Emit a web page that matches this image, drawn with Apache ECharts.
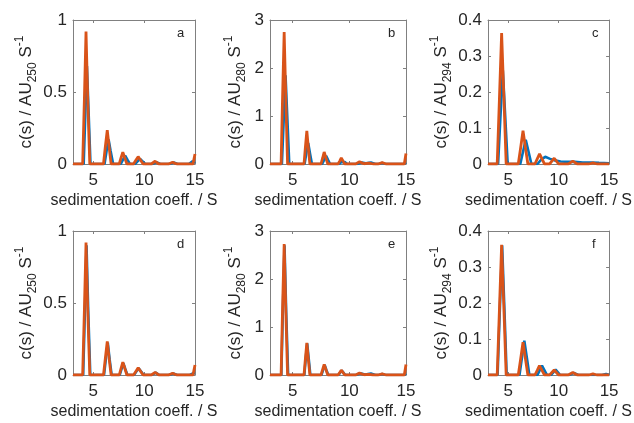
<!DOCTYPE html>
<html>
<head>
<meta charset="utf-8">
<script src="https://cdn.jsdelivr.net/npm/echarts@6/dist/echarts.min.js"></script>
<style>
  html, body { margin: 0; padding: 0; background: #fff; }
  #chart { width: 634px; height: 423px; }
</style>
</head>
<body>
<div id="chart"></div>
<script>
// sedimentation coefficient (S) and c(s) values
var xTicks = [5, 10, 15];

var aBlueS = [3, 4.05, 4.37, 4.72, 6.1, 6.3, 6.5, 6.7, 6.95, 7.7, 7.92, 8.13, 8.35, 8.6, 9.1, 9.35, 9.6, 9.85, 10.1, 10.8, 11.2, 11.6, 12.5, 12.9, 13.3, 14.4, 14.75, 15];
var aBlueC = [0, 0, 0.68, 0, 0, 0.09, 0.17, 0.09, 0, 0, 0.03, 0.058, 0.03, 0, 0, 0.018, 0.035, 0.018, 0, 0, 0.012, 0, 0, 0.01, 0, 0, 0.018, 0.005];
var aOrangeS = [3, 3.95, 4.12, 4.28, 4.45, 4.65, 6.0, 6.18, 6.37, 6.55, 6.75, 7.55, 7.72, 7.9, 8.1, 8.3, 8.95, 9.18, 9.41, 9.65, 9.9, 10.7, 11.08, 11.45, 12.4, 12.8, 13.2, 14.8, 15];
var aOrangeC = [0, 0, 0.45, 0.92, 0.45, 0, 0, 0.12, 0.235, 0.12, 0, 0, 0.042, 0.082, 0.042, 0, 0, 0.026, 0.051, 0.026, 0, 0, 0.019, 0, 0, 0.012, 0, 0, 0.07];

var bBlueS = [3, 4.05, 4.37, 4.7, 6.05, 6.2, 6.37, 6.53, 6.7, 7.6, 7.78, 7.95, 8.12, 8.3, 9.1, 9.28, 9.45, 9.62, 9.8, 10.7, 11.1, 11.45, 11.9, 12.3, 12.6, 12.9, 13.2, 14.8, 15];
var bBlueC = [0, 0, 1.85, 0, 0, 0.22, 0.44, 0.22, 0, 0, 0.085, 0.17, 0.085, 0, 0, 0.04, 0.08, 0.04, 0, 0, 0.03, 0.015, 0.03, 0, 0, 0.02, 0, 0, 0.03];
var bOrangeS = [3, 3.98, 4.1, 4.25, 4.4, 4.55, 6.0, 6.12, 6.25, 6.38, 6.52, 7.5, 7.64, 7.78, 7.94, 8.1, 9.0, 9.15, 9.29, 9.45, 9.6, 10.55, 10.9, 11.3, 11.75, 12.1, 12.55, 12.9, 13.25, 14.85, 15];
var bOrangeC = [0, 0, 1.3, 2.75, 1.3, 0, 0, 0.34, 0.69, 0.34, 0, 0, 0.12, 0.25, 0.12, 0, 0, 0.06, 0.125, 0.06, 0, 0, 0.045, 0.005, 0.02, 0, 0, 0.03, 0, 0, 0.22];

var cBlueS = [3, 4.0, 4.23, 4.47, 4.71, 4.95, 6.2, 6.47, 6.74, 7.02, 7.3, 7.9, 8.3, 8.67, 9.1, 9.6, 10.2, 11.0, 11.6, 12.4, 13.2, 14.0, 15];
var cBlueC = [0, 0, 0.13, 0.26, 0.13, 0, 0, 0.034, 0.067, 0.034, 0, 0, 0.013, 0.02, 0.015, 0.01, 0.007, 0.006, 0.006, 0.004, 0.004, 0.003, 0.002];
var cOrangeS = [3, 3.91, 4.13, 4.35, 4.58, 4.8, 6.0, 6.24, 6.47, 6.71, 6.95, 7.65, 7.88, 8.11, 8.35, 8.6, 9.1, 9.33, 9.56, 9.78, 10.0, 10.95, 11.4, 11.85, 13.0, 13.4, 13.8, 15];
var cOrangeC = [0, 0, 0.18, 0.364, 0.18, 0, 0, 0.046, 0.0925, 0.046, 0, 0, 0.014, 0.028, 0.014, 0, 0, 0.008, 0.016, 0.008, 0, 0, 0.008, 0, 0, 0.003, 0, 0];

var dBlueS = [3, 4.0, 4.17, 4.33, 4.5, 4.7, 6.05, 6.23, 6.42, 6.6, 6.8, 7.6, 7.77, 7.95, 8.15, 8.35, 9.0, 9.23, 9.46, 9.7, 9.95, 10.75, 11.13, 11.5, 12.45, 12.85, 13.25, 14.5, 14.8, 15];
var dBlueC = [0, 0, 0.44, 0.9, 0.44, 0, 0, 0.11, 0.225, 0.11, 0, 0, 0.04, 0.082, 0.04, 0, 0, 0.024, 0.046, 0.024, 0, 0, 0.017, 0, 0, 0.011, 0, 0, 0.012, 0.01];
var dOrangeS = [3, 3.95, 4.12, 4.28, 4.45, 4.65, 6.0, 6.18, 6.37, 6.55, 6.75, 7.55, 7.72, 7.9, 8.1, 8.3, 8.95, 9.18, 9.41, 9.65, 9.9, 10.7, 11.08, 11.45, 12.4, 12.8, 13.2, 14.8, 15];
var dOrangeC = [0, 0, 0.45, 0.92, 0.45, 0, 0, 0.116, 0.233, 0.116, 0, 0, 0.045, 0.089, 0.045, 0, 0, 0.025, 0.05, 0.025, 0, 0, 0.018, 0, 0, 0.012, 0, 0, 0.07];

var eBlueS = [3, 4.0, 4.13, 4.28, 4.43, 4.6, 6.03, 6.15, 6.28, 6.42, 6.56, 7.54, 7.68, 7.82, 7.98, 8.14, 9.03, 9.18, 9.33, 9.49, 9.64, 10.6, 10.95, 11.4, 11.9, 12.3, 12.6, 12.9, 13.2, 14.85, 15];
var eBlueC = [0, 0, 1.3, 2.7, 1.3, 0, 0, 0.33, 0.66, 0.33, 0, 0, 0.1, 0.21, 0.1, 0, 0, 0.045, 0.095, 0.045, 0, 0, 0.035, 0.01, 0.03, 0, 0, 0.02, 0, 0, 0.03];
var eOrangeS = [3, 3.98, 4.1, 4.25, 4.4, 4.55, 6.0, 6.12, 6.25, 6.38, 6.52, 7.5, 7.64, 7.78, 7.94, 8.1, 9.0, 9.15, 9.29, 9.45, 9.6, 10.55, 10.9, 11.3, 11.75, 12.1, 12.55, 12.9, 13.25, 14.85, 15];
var eOrangeC = [0, 0, 1.3, 2.73, 1.3, 0, 0, 0.33, 0.67, 0.33, 0, 0, 0.11, 0.22, 0.11, 0, 0, 0.05, 0.1, 0.05, 0, 0, 0.04, 0.005, 0.015, 0, 0, 0.025, 0, 0, 0.22];

var fBlueS = [3, 3.95, 4.17, 4.4, 4.63, 4.85, 6.12, 6.36, 6.6, 6.85, 7.1, 7.9, 8.12, 8.35, 8.6, 8.85, 9.25, 9.47, 9.7, 9.93, 10.15, 11.05, 11.5, 11.95, 14.3, 14.7, 15];
var fBlueC = [0, 0, 0.18, 0.36, 0.18, 0, 0, 0.048, 0.095, 0.048, 0, 0, 0.013, 0.026, 0.013, 0, 0, 0.0075, 0.015, 0.0075, 0, 0, 0.006, 0, 0, 0.003, 0.001];
var fOrangeS = [3, 3.91, 4.13, 4.35, 4.58, 4.8, 6.0, 6.24, 6.47, 6.71, 6.95, 7.65, 7.88, 8.1, 8.35, 8.6, 9.1, 9.33, 9.56, 9.78, 10.0, 10.95, 11.4, 11.85, 13.0, 13.4, 13.8, 15];
var fOrangeC = [0, 0, 0.18, 0.362, 0.18, 0, 0, 0.045, 0.091, 0.045, 0, 0, 0.013, 0.026, 0.013, 0, 0, 0.007, 0.014, 0.007, 0, 0, 0.007, 0, 0, 0.003, 0, 0];

var panels = [
  {tag: 'a', left: 73, top: 20, width: 122, yMax: 1, yStep: 0.5, wl: '250', gap: 34, blue: [aBlueS, aBlueC], orange: [aOrangeS, aOrangeC]},
  {tag: 'b', left: 270, top: 20, width: 136, yMax: 3, yStep: 1, wl: '280', gap: 22, blue: [bBlueS, bBlueC], orange: [bOrangeS, bOrangeC]},
  {tag: 'c', left: 488, top: 20, width: 122, yMax: 0.4, yStep: 0.1, wl: '294', gap: 34, blue: [cBlueS, cBlueC], orange: [cOrangeS, cOrangeC]},
  {tag: 'd', left: 73, top: 231, width: 122, yMax: 1, yStep: 0.5, wl: '250', gap: 34, blue: [dBlueS, dBlueC], orange: [dOrangeS, dOrangeC]},
  {tag: 'e', left: 270, top: 231, width: 136, yMax: 3, yStep: 1, wl: '280', gap: 22, blue: [eBlueS, eBlueC], orange: [eOrangeS, eOrangeC]},
  {tag: 'f', left: 488, top: 231, width: 122, yMax: 0.4, yStep: 0.1, wl: '294', gap: 34, blue: [fBlueS, fBlueC], orange: [fOrangeS, fOrangeC]}
];

var font = "'Liberation Sans', Arial, Helvetica, sans-serif";
var boxColor = '#808080';
var textColor = '#262626';

function pairs(s, c) {
  return s.map(function (v, i) { return [v, c[i]]; });
}

var grid = [], xAxis = [], yAxis = [], series = [], graphic = [];
panels.forEach(function (p, i) {
  grid.push({left: p.left, top: p.top, width: p.width, height: 144, containLabel: false});
  var tick = {show: true, inside: true, length: 3, lineStyle: {color: boxColor}};
  xAxis.push({
    type: 'value', gridIndex: i, min: 3, max: 15,
    name: 'sedimentation coeff. / S', nameLocation: 'middle', nameGap: 29,
    nameTextStyle: {fontFamily: font, fontSize: 16, color: textColor},
    axisLine: {show: true, onZero: false, lineStyle: {color: boxColor, width: 1}},
    axisTick: Object.assign({customValues: xTicks}, tick),
    axisLabel: {customValues: xTicks, fontFamily: font, fontSize: 17, color: textColor, margin: 8},
    splitLine: {show: false}
  });
  xAxis.push({
    type: 'value', gridIndex: i, min: 3, max: 15, position: 'top',
    axisLine: {show: true, onZero: false, lineStyle: {color: boxColor, width: 1}},
    axisTick: Object.assign({customValues: xTicks}, tick),
    axisLabel: {show: false}, splitLine: {show: false}
  });
  yAxis.push({
    type: 'value', gridIndex: i, min: 0, max: p.yMax, interval: p.yStep,
    name: '{n|c(s) / AU}{sub|' + p.wl + '}{n| S}{sup|-1}',
    nameLocation: 'middle', nameGap: p.gap, nameRotate: 90,
    nameTextStyle: {
      fontFamily: font, color: textColor,
      rich: {
        n: {fontFamily: font, fontSize: 17, color: textColor, lineHeight: 25},
        sub: {fontFamily: font, fontSize: 12, color: textColor, lineHeight: 12, verticalAlign: 'bottom'},
        sup: {fontFamily: font, fontSize: 12, color: textColor, lineHeight: 12, verticalAlign: 'top'}
      }
    },
    axisLine: {show: true, onZero: false, lineStyle: {color: boxColor, width: 1}},
    axisTick: tick,
    axisLabel: {fontFamily: font, fontSize: 17, color: textColor, margin: 6},
    splitLine: {show: false}
  });
  yAxis.push({
    type: 'value', gridIndex: i, min: 0, max: p.yMax, interval: p.yStep, position: 'right',
    axisLine: {show: true, onZero: false, lineStyle: {color: boxColor, width: 1}},
    axisTick: tick, axisLabel: {show: false}, splitLine: {show: false}
  });
  series.push({
    type: 'line', xAxisIndex: 2 * i, yAxisIndex: 2 * i, data: pairs(p.blue[0], p.blue[1]),
    showSymbol: false, lineStyle: {color: '#0072BD', width: 2.6}, itemStyle: {color: '#0072BD'},
    clip: true, animation: false
  });
  series.push({
    type: 'line', xAxisIndex: 2 * i, yAxisIndex: 2 * i, data: pairs(p.orange[0], p.orange[1]),
    showSymbol: false, lineStyle: {color: '#D95319', width: 2.8}, itemStyle: {color: '#D95319'},
    clip: true, animation: false
  });
  graphic.push({
    type: 'text', left: p.left + p.width - 18, top: p.top + 7,
    style: {text: p.tag, font: '13px ' + font, fill: textColor}
  });
});

var myChart = echarts.init(document.getElementById('chart'), null, {renderer: 'canvas'});
var option = {
  backgroundColor: '#fff',
  animation: false,
  grid: grid,
  xAxis: xAxis,
  yAxis: yAxis,
  series: series,
  graphic: graphic
};
option && myChart.setOption(option);
</script>
</body>
</html>
